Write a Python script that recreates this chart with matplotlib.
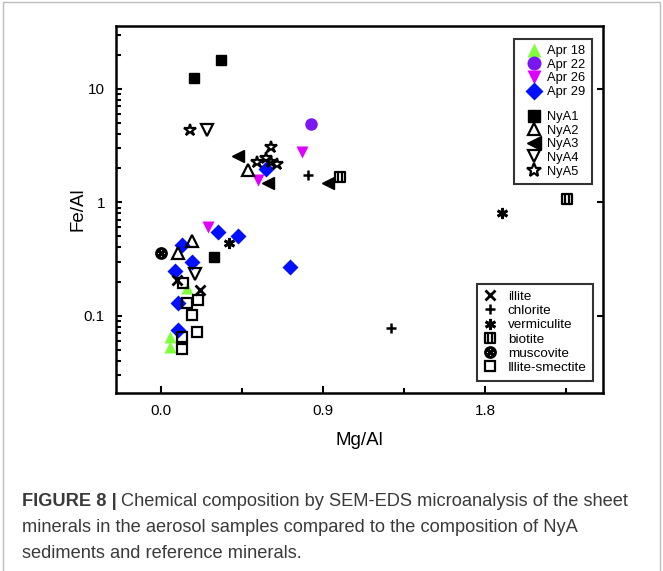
import numpy as np
import matplotlib
matplotlib.use('Agg')
from matplotlib import pyplot as plt
from matplotlib.path import Path
from matplotlib.lines import Line2D
from matplotlib.ticker import FixedLocator, NullFormatter, LogLocator
import matplotlib.patches as mpatches

plt.rcParams['font.family'] = ['Liberation Sans', 'DejaVu Sans']

# aerosol samples
apr18_x = [0.05, 0.05, 0.144]
apr18_y = [0.065, 0.053, 0.175]
apr22_x = [0.83]
apr22_y = [4.9]
apr26_x = [0.78, 0.54, 0.26]
apr26_y = [2.8, 1.56, 0.60]
apr29_x = [0.117, 0.172, 0.078, 0.094, 0.094, 0.317, 0.428, 0.717, 0.583]
apr29_y = [0.418, 0.296, 0.25, 0.129, 0.0745, 0.544, 0.50, 0.267, 1.95]

# NyA sediments
nya1_x = [0.183, 0.333, 0.294]
nya1_y = [12.4, 17.8, 0.33]
nya2_x = [0.483, 0.172, 0.094]
nya2_y = [1.91, 0.46, 0.355]
nya3_x = [0.428, 0.594, 0.928]
nya3_y = [2.54, 1.47, 1.47]
nya4_x = [0.256, 0.189]
nya4_y = [4.3, 0.232]
nya5_x = [0.161, 0.611, 0.533, 0.583, 0.611, 0.644]
nya5_y = [4.3, 3.05, 2.25, 2.44, 2.25, 2.16]

# reference minerals
illite_x = [0.089, 0.217]
illite_y = [0.206, 0.168]
chlorite_x = [0.817, 1.278]
chlorite_y = [1.73, 0.078]
vermic_x = [1.894, 0.378]
vermic_y = [0.80, 0.435]
biotite_x = [0.994, 2.256]
biotite_y = [1.66, 1.06]
muscov_x = [0.0]
muscov_y = [0.355]
ilsm_x = [0.122, 0.206, 0.144, 0.172, 0.2, 0.117, 0.117]
ilsm_y = [0.193, 0.137, 0.129, 0.101, 0.0716, 0.065, 0.0507]

#custom markers
sq = [(-1, -1), (1, -1), (1, 1), (-1, 1), (-1, -1)]
biotite_path = Path(sq + [(-0.33, -1), (-0.33, 1), (0.33, -1), (0.33, 1)],
                    [Path.MOVETO] + [Path.LINETO]*3 + [Path.CLOSEPOLY] +
                    [Path.MOVETO, Path.LINETO, Path.MOVETO, Path.LINETO])
xcross = Path([(-0.7, -0.7), (0.7, 0.7), (-0.7, 0.7), (0.7, -0.7)],
              [Path.MOVETO, Path.LINETO, Path.MOVETO, Path.LINETO])
muscov_path = Path.make_compound_path(Path.unit_circle(), xcross)

fig = plt.figure(figsize=(6.63, 5.71), dpi=100)
ax = fig.add_axes([0.175, 0.312, 0.735, 0.643])

ms = 8
lw = 1.6
ax.plot(apr18_x, apr18_y, '^', color='#80ff3c', ms=ms+1, mec='none', label='Apr 18')
ax.plot(apr22_x, apr22_y, 'o', color='#7a16f2', ms=ms+1, mec='none', label='Apr 22')
ax.plot(apr26_x, apr26_y, 'v', color='#e000ff', ms=ms+1, mec='none', label='Apr 26')
ax.plot(apr29_x, apr29_y, 'D', color='#0010ff', ms=ms, mec='none', label='Apr 29')

ax.plot(nya1_x, nya1_y, 's', color='black', ms=ms-0.5, label='NyA1')
ax.plot(nya2_x, nya2_y, '^', mfc='none', mec='black', mew=lw, ms=ms, label='NyA2')
ax.plot(nya3_x, nya3_y, '<', color='black', ms=ms+1, label='NyA3')
ax.plot(nya4_x, nya4_y, 'v', mfc='none', mec='black', mew=lw, ms=ms, label='NyA4')
ax.plot(nya5_x, nya5_y, '*', mfc='none', mec='black', mew=lw, ms=ms+1, label='NyA5')

ax.plot(illite_x, illite_y, 'x', color='black', mew=lw+0.4, ms=ms-1, label='illite')
ax.plot(chlorite_x, chlorite_y, '+', color='black', mew=lw+0.2, ms=ms-1, label='chlorite')
ax.plot(vermic_x, vermic_y, marker=(6, 2, 0), ls='none', color='black', mew=lw+0.4, ms=ms, label='vermiculite')
ax.plot(biotite_x, biotite_y, marker=biotite_path, ls='none', mfc='none', mec='black', mew=lw, ms=ms-1, label='biotite')
ax.plot(muscov_x, muscov_y, marker=muscov_path, ls='none', mfc='none', mec='black', mew=lw+0.6, ms=ms-1, label='muscovite')
ax.plot(ilsm_x, ilsm_y, 's', mfc='none', mec='black', mew=lw, ms=ms-1, label='Illite-smectite')

ax.set_yscale('log')
ax.set_xlim(-0.25, 2.455)
ax.set_ylim(0.021, 35.9)
ax.set_xticks([0.0, 0.9, 1.8])
ax.set_xticklabels(['0.0', '0.9', '1.8'])
ax.xaxis.set_minor_locator(FixedLocator([0.45, 1.35, 2.25]))
ax.set_yticks([0.1, 1, 10])
ax.set_yticklabels(['0.1', '1', '10'])
ax.yaxis.set_minor_locator(LogLocator(base=10, subs=np.arange(2, 10)))
ax.yaxis.set_minor_formatter(NullFormatter())
ax.tick_params(which='both', direction='in', width=1.5, labelsize=11, pad=8)
ax.tick_params(which='major', length=5)
ax.tick_params(which='minor', length=3.5)
ax.tick_params(axis='y', which='major', right=True, length=4)
for s in ax.spines.values():
    s.set_linewidth(1.8)

ax.set_xlabel('Mg/Al', fontsize=13.5, labelpad=10)
ax.set_ylabel('Fe/Al', fontsize=13.5, labelpad=-2)

h, l = ax.get_legend_handles_labels()
blank = Line2D([], [], ls='none')
leg1 = ax.legend(h[:4] + [blank] + h[4:9], l[:4] + [''] + l[4:9], loc='upper right',
                 fontsize=9.3, frameon=True, fancybox=False, edgecolor='black',
                 handlelength=2.0, handletextpad=0.05, labelspacing=0.12,
                 borderpad=0.5, borderaxespad=0.3, markerscale=1.12,
                 bbox_to_anchor=(0.985, 0.975))
leg1.get_texts()[4].set_fontsize(2)
leg1.get_frame().set_linewidth(1.5)
ax.add_artist(leg1)
leg2 = ax.legend(h[9:], l[9:], loc='lower right', fontsize=9.7, frameon=True,
                 fancybox=False, edgecolor='black', handlelength=1.0,
                 handletextpad=0.8, labelspacing=0.13, borderpad=0.5,
                 bbox_to_anchor=(0.993, 0.015))
leg2.get_frame().set_linewidth(1.5)

# figure border
fig.patches.append(mpatches.Rectangle((0.004, -0.02), 0.992, 1.016, transform=fig.transFigure,
                                      fill=False, edgecolor='#bdbdbd', lw=1.0))

# caption
cap_color = '#3a3a3a'
fs = 13.15
t = fig.text(22/663, 1-502/571, 'FIGURE 8 |', fontsize=fs, fontweight='bold',
             color=cap_color, va='center', ha='left')
fig.canvas.draw()
bb = t.get_window_extent()
x2 = (bb.x1 + 4) / fig.bbox.width
fig.text(x2, 1-502/571, 'Chemical composition by SEM-EDS microanalysis of the sheet',
         fontsize=fs, color=cap_color, va='center', ha='left')
fig.text(22/663, 1-528/571, 'minerals in the aerosol samples compared to the composition of NyA',
         fontsize=fs, color=cap_color, va='center', ha='left')
fig.text(22/663, 1-553/571, 'sediments and reference minerals.',
         fontsize=fs, color=cap_color, va='center', ha='left')

plt.savefig('out.png', dpi=100)
